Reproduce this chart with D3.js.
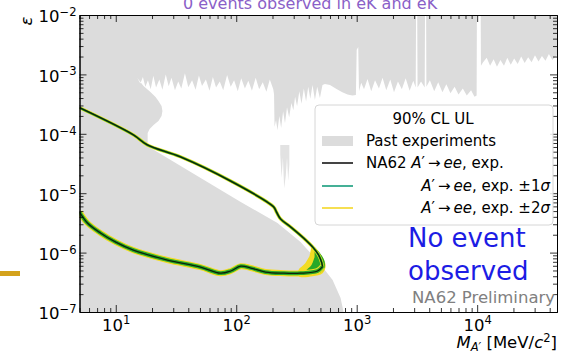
<!DOCTYPE html>
<html><head><meta charset="utf-8">
<script src="https://cdn.jsdelivr.net/npm/d3@7"></script>
<style>body{margin:0;background:#fff}svg{display:block;font-family:'DejaVu Sans',sans-serif}</style>
</head><body><svg id="c" width="562" height="353"></svg>
<script>
// ---- data ----
const xDomain = [5, 46000];
const yDomain = [1e-7, 1e-2];
const massTicks = [10, 100, 1000, 10000];
const epsTicks = [1e-2, 1e-3, 1e-4, 1e-5, 1e-6, 1e-7];
// boundary of the region NOT excluded by past experiments (mass MeV, epsilon)
const pastAllowedBoundary = [
 [15.1,8.7e-4],[16,7.0e-4],[16.8,9.0e-4],[17.6,6.2e-4],[18.5,8.0e-4],[19.5,5.6e-4],[20.5,9.5e-4],[21.6,6.0e-4],[23,8.2e-4],[24.4,5.5e-4],[26,1.0e-3],[27.5,6.3e-4],[29,8.8e-4],[31,5.4e-4],[33,7.6e-4],[35,5.8e-4],[37.5,1.05e-3],[40,6.1e-4],[43,8.0e-4],[46,5.5e-4],[49,9.6e-4],[52,6.4e-4],[56,8.2e-4],[60,5.3e-4],[64,9.0e-4],[68,6.0e-4],[73,7.6e-4],[78,5.4e-4],[84,9.8e-4],[90,6.2e-4],[96,8.0e-4],[103,5.2e-4],[110,8.6e-4],[118,5.8e-4],[126,7.8e-4],[135,5.3e-4],[145,8.8e-4],[155,5.6e-4],[166,7.4e-4],[178,5.1e-4],[190,8.2e-4],[203,5.6e-4],
 [206,4.6e-4],[208,1.3e-4],[214,1.7e-4],[220,1.15e-4],[228,2.0e-4],[236,1.25e-4],[245,2.4e-4],[254,1.5e-4],[264,2.8e-4],[275,1.9e-4],[287,3.3e-4],[298,2.5e-4],[308,4.2e-4],
 [320,2.9e-4],[334,5.2e-4],[348,3.2e-4],[364,5.8e-4],[380,3.5e-4],[396,6.2e-4],[412,3.9e-4],[430,6.6e-4],[450,3.7e-4],[470,6.2e-4],[495,4.0e-4],[520,6.6e-4],
 [545,6.9e-4],[600,6.6e-4],[680,5.7e-4],[760,5.0e-4],[840,4.6e-4],[920,4.4e-4],[985,4.5e-4],[1000,2.6e-3],[1030,2.9e-3],[1045,5.2e-4],[1090,7.2e-4],
 [1150,5.6e-4],[1230,8.4e-4],[1320,5.2e-4],[1420,8.0e-4],[1530,5.8e-4],[1640,8.8e-4],[1760,5.4e-4],[1900,8.2e-4],[2040,5.0e-4],[2200,7.6e-4],[2370,5.6e-4],[2550,8.6e-4],[2750,5.3e-4],[2950,7.8e-4],[3090,6.0e-4],[3110,1e-2],[3180,1e-2],[3200,6.0e-4],[3420,7.6e-4],[3670,6.0e-4],[3690,1e-2],[3770,1e-2],[3790,6.2e-4],[4050,8.0e-4],[4400,5.2e-4],[4750,7.4e-4],[5150,5.0e-4],[5550,6.8e-4],[6000,4.8e-4],[6500,6.2e-4],[7000,4.6e-4],[7600,5.8e-4],[8200,4.4e-4],[8900,5.4e-4],[9500,4.2e-4],[9900,4.4e-4],[9950,1e-2],[10700,1e-2],[10750,1.4e-3],
 [11200,1.6e-3],[12000,1.9e-3],[12800,1.4e-3],[13700,1.8e-3],[14600,1.35e-3],[15600,1.75e-3],[16700,1.4e-3],[17800,1.9e-3],[19000,1.45e-3],[20300,1.85e-3],[21700,1.5e-3],[23200,2.0e-3],[24800,1.55e-3],[26500,1.95e-3],[28300,1.6e-3],[30200,2.1e-3],[32300,1.65e-3],[34500,2.05e-3],[36900,1.7e-3],[39400,2.2e-3],[42100,1.75e-3],[46000,2.1e-3],
 [46000,1e-7],[778,1e-7],[735,1.72e-7],[631,3.46e-7],[483,6.95e-7],[342,1.51e-6],[220,3.15e-6],[109,7.1e-6],[50.7,1.8e-5],[19.5,5.77e-5],[18.4,7.0e-5],[18.4,1.03e-4],[19.1,1.2e-4],[20.6,1.41e-4],[22.6,1.64e-4],[24.0,2.0e-4],[24.4,2.42e-4],[24.0,2.94e-4],[22.6,3.56e-4],[21.4,4.17e-4],[19.4,5.06e-4],[17.0,6.38e-4]
];
// isolated excluded patch
const pastPatch = [[232,6.5e-5],[276,6.5e-5],[276,3.0e-5],[270,1.6e-5],[264,4e-5],[258,2e-5],[250,1.2e-5],[244,4e-5],[238,1.8e-5],[232,4.5e-5]];
// NA62 expected UL contour
const expUpper = [[5,2.75e-4],[14.0,9.6e-5],[18.3,6.5e-5],[34.4,4.1e-5],[90,1.6e-5],[204,5.9e-6],[216,4.8e-6],[233,3.7e-6],[283,2.7e-6],[362,1.76e-6],[439,1.19e-6],[483,9.1e-7],[511,6.9e-7],[521,5.8e-7]];
const expLower = [[521,5.8e-7],[473,4.9e-7],[342,4.5e-7],[247,4.5e-7],[175,4.7e-7],[132,5.5e-7],[109,5.9e-7],[90,4.9e-7],[74,4.5e-7],[50.5,5.7e-7],[26.8,7.5e-7],[14.0,1.1e-6],[10.0,1.5e-6],[7.46,2.14e-6],[5.82,3.15e-6],[5,4.8e-6]];
const band2Tip = [[422,1.29e-6],[483,1.02e-6],[531,7.8e-7],[552,5.9e-7],[521,4.5e-7],[431,4.0e-7],[329,4.0e-7],[329,5.1e-7],[369,6.4e-7],[406,8.8e-7]];
const band1Tip = [[447,1.24e-6],[501,9.5e-7],[542,7.0e-7],[531,5.1e-7],[464,4.4e-7],[377,4.4e-7],[377,4.9e-7],[422,6.2e-7],[447,8.4e-7]];

// ---- layout ----
const W = 562, H = 353;
const P = {l: 79.5, r: 557, t: 15, b: 312};
const C = {grey:'#dcdcdc', yellow:'#f2dc23', green:'#28a828', line:'#0b220b', teal:'#45b096', lyellow:'#f6df52'};
const svg = d3.select('#c');
const x = d3.scaleLog().domain(xDomain).range([P.l, P.r]);
const y = d3.scaleLog().domain(yDomain).range([P.b, P.t]);
const line = d3.line().x(d => x(d[0])).y(d => y(d[1]));
const smooth = d3.line().x(d => x(d[0])).y(d => y(d[1])).curve(d3.curveCatmullRom.alpha(0.5));

svg.append('defs').append('clipPath').attr('id','clip').append('rect')
  .attr('x',P.l).attr('y',P.t).attr('width',P.r-P.l).attr('height',P.b-P.t);
const plot = svg.append('g').attr('clip-path','url(#clip)');

// past experiments (grey = full frame minus allowed region)
const frame = `M${x(xDomain[0])},${y(yDomain[1])}H${x(xDomain[1])}V${y(yDomain[0])}H${x(xDomain[0])}Z`;
plot.append('path').attr('d', frame + line(pastAllowedBoundary) + 'Z')
  .attr('fill', C.grey).attr('fill-rule','evenodd');
plot.append('path').attr('d', line(pastPatch) + 'Z').attr('fill', '#e2e2e2');

// bands and expected line
plot.append('path').attr('d', smooth(band2Tip)+'Z').attr('fill', C.yellow);
plot.append('path').attr('d', smooth(band1Tip)+'Z').attr('fill', C.green);
[[expUpper,3.4,2.2],[expLower,6,3.8]].forEach(([d,w2,w1]) => {
  plot.append('path').attr('d', smooth(d)).attr('fill','none').attr('stroke',C.yellow).attr('stroke-width',w2).attr('stroke-linejoin','round');
  plot.append('path').attr('d', smooth(d)).attr('fill','none').attr('stroke',C.green).attr('stroke-width',w1).attr('stroke-linejoin','round');
});
[expUpper, expLower].forEach(d => plot.append('path').attr('d', smooth(d)).attr('fill','none').attr('stroke',C.line).attr('stroke-width',1.3));

// ---- axes ----
const minorX = x.ticks().filter(v => !massTicks.includes(v));
const minorY = y.ticks().filter(v => !epsTicks.some(t => Math.abs(t-v)/t < 1e-6));
const FS = 16.5;
function sup(sel) {
  sel.selectAll('.tick text').each(function(d){
    const t = d3.select(this); const e = Math.round(Math.log10(d));
    t.text(null).attr('fill','#000').attr('font-size',FS).attr('font-family',"'DejaVu Sans',sans-serif");
    t.append('tspan').text('10');
    t.append('tspan').attr('dy','-0.55em').attr('font-size', FS*0.7).text(e < 0 ? '\u2212' + (-e) : e);
  });
}
const gB = svg.append('g').attr('transform',`translate(0,${P.b})`)
  .call(d3.axisBottom(x).tickValues(massTicks).tickSize(-7).tickSizeOuter(0).tickPadding(7));
sup(gB);
svg.append('g').attr('transform',`translate(0,${P.b})`).call(d3.axisBottom(x).tickValues(minorX).tickSize(-4).tickSizeOuter(0).tickFormat(''));
svg.append('g').attr('transform',`translate(0,${P.t})`).call(d3.axisTop(x).tickValues(massTicks).tickSize(-7).tickSizeOuter(0).tickFormat(''));
svg.append('g').attr('transform',`translate(0,${P.t})`).call(d3.axisTop(x).tickValues(minorX).tickSize(-4).tickSizeOuter(0).tickFormat(''));
const gL = svg.append('g').attr('transform',`translate(${P.l},0)`)
  .call(d3.axisLeft(y).tickValues(epsTicks).tickSize(-7).tickSizeOuter(0).tickPadding(3));
sup(gL);
gL.selectAll('.tick text').attr('dy','0.42em');
svg.append('g').attr('transform',`translate(${P.l},0)`).call(d3.axisLeft(y).tickValues(minorY).tickSize(-4).tickSizeOuter(0).tickFormat(''));
svg.append('g').attr('transform',`translate(${P.r},0)`).call(d3.axisRight(y).tickValues(epsTicks).tickSize(-7).tickSizeOuter(0).tickFormat(''));
svg.append('g').attr('transform',`translate(${P.r},0)`).call(d3.axisRight(y).tickValues(minorY).tickSize(-4).tickSizeOuter(0).tickFormat(''));
svg.selectAll('.domain').attr('stroke','#000').attr('stroke-width',1);
svg.selectAll('.tick line').attr('stroke','#000').attr('stroke-width',0.8);

// axis labels
const xl = svg.append('text').attr('x',P.r).attr('y',348).attr('text-anchor','end').attr('font-size',FS);
xl.append('tspan').attr('font-style','italic').text('M');
xl.append('tspan').attr('font-style','italic').attr('font-size',FS*0.7).attr('dy','0.25em').text('A\u2032');
xl.append('tspan').attr('dy','-0.18em').text(' [MeV/');
xl.append('tspan').attr('font-style','italic').text('c');
xl.append('tspan').attr('font-size',FS*0.7).attr('dy','-0.55em').text('2');
xl.append('tspan').attr('dy','0.38em').text(']');
svg.append('text').attr('transform','translate(32,21) rotate(-90)').attr('text-anchor','middle')
  .attr('font-size',FS).attr('font-style','italic').text('\u03b5');

// ---- annotations ----
svg.append('text').attr('x',408).attr('y',247).attr('font-size',26).attr('fill','#1c1ce4').text('No event');
svg.append('text').attr('x',408).attr('y',280).attr('font-size',26).attr('fill','#1c1ce4').text('observed');
svg.append('text').attr('x',412).attr('y',303).attr('font-size',16.5).attr('fill','#808080').text('NA62 Preliminary');
svg.append('text').attr('x',183).attr('y',8.5).attr('font-size',16).attr('fill','#8a5fc8').text('0 events observed in eK and eK');
svg.append('rect').attr('x',0).attr('y',271).attr('width',20).attr('height',5).attr('fill','#d4a21c');

// ---- legend ----
const lg = svg.append('g');
lg.append('rect').attr('x',315).attr('y',105).attr('width',238).attr('height',120).attr('rx',4)
  .attr('fill','#fff').attr('fill-opacity',0.85).attr('stroke','#d6d6d6');
lg.append('text').attr('x',433).attr('y',124).attr('text-anchor','middle').attr('font-size',15).text('90% CL UL');
lg.append('rect').attr('x',322).attr('y',136).attr('width',31).attr('height',10).attr('fill',C.grey);
lg.append('text').attr('x',366).attr('y',146).attr('font-size',15).text('Past experiments');
const rows = [{c:'#444', yy:163}, {c:C.teal, yy:186}, {c:C.lyellow, yy:208}];
rows.forEach(r => lg.append('line').attr('x1',322).attr('x2',353).attr('y1',r.yy).attr('y2',r.yy).attr('stroke',r.c).attr('stroke-width',2));
function decay(t) {
  t.append('tspan').attr('font-style','italic').text('A');
  t.append('tspan').text('\u2032\u2009\u2192\u2009');
  t.append('tspan').attr('font-style','italic').text('ee');
}
const t2 = lg.append('text').attr('x',366).attr('y',168).attr('font-size',15);
t2.append('tspan').text('NA62 '); decay(t2); t2.append('tspan').text(', exp.');
[['1',191],['2',213]].forEach(([n,yy]) => {
  const t = lg.append('text').attr('x',550).attr('y',yy).attr('font-size',15).attr('text-anchor','end');
  decay(t); t.append('tspan').text(', exp. \u00b1' + n); t.append('tspan').attr('font-style','italic').text('\u03c3');
});
</script></body></html>
